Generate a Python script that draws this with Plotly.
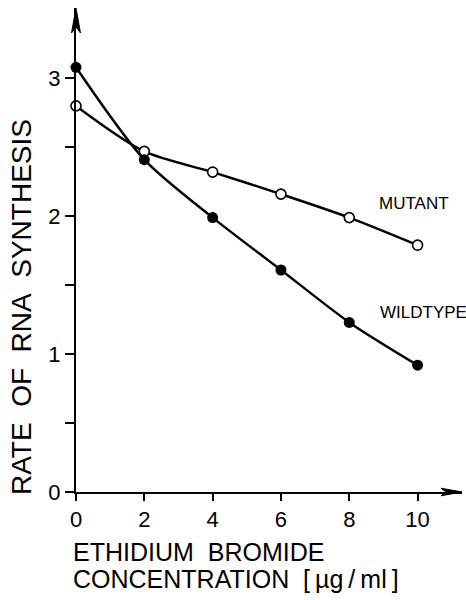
import plotly.graph_objects as go

# Ethidium bromide concentration (ug/ml)
conc = [0, 2, 4, 6, 8, 10]
# Rate of RNA synthesis
wildtype = [3.08, 2.41, 1.99, 1.61, 1.23, 0.92]
mutant = [2.80, 2.47, 2.32, 2.16, 1.99, 1.79]

x_ticks = [0, 2, 4, 6, 8, 10]
y_ticks = [0, 0.5, 1, 1.5, 2, 2.5, 3]
y_ticktext = ["0", "", "1", "", "2", "", "3"]

X_MAX = 11.3
Y_MAX = 3.51
FONT = "Liberation Sans"

PLOT_W = 386.5
PLOT_H = 484.4
SP2 = "&nbsp;&nbsp;"
THIN = "\u2009"

fig = go.Figure()

fig.add_trace(go.Scatter(
    x=conc, y=mutant, mode="lines+markers", name="MUTANT",
    line=dict(color="black", width=2.4, shape="spline", smoothing=0.8),
    marker=dict(symbol="circle", size=10, color="white",
                line=dict(color="black", width=1.6)),
    cliponaxis=False,
))
fig.add_trace(go.Scatter(
    x=conc, y=wildtype, mode="lines+markers", name="WILDTYPE",
    line=dict(color="black", width=2.4, shape="spline", smoothing=0.8),
    marker=dict(symbol="circle", size=11, color="black"),
    cliponaxis=False,
))

# arrowheads at the ends of both axes (paper coordinates, sized in pixels)
hw, ln, nt = 4.5 / PLOT_W, 25 / PLOT_H, 19 / PLOT_H
fig.add_shape(type="path", xref="paper", yref="paper",
              path=f"M 0 1 L {-hw} {1-ln} L 0 {1-nt} L {hw} {1-ln} Z",
              fillcolor="black", line=dict(color="black", width=1))
hh, lx, nx = 3.8 / PLOT_H, 21 / PLOT_W, 16 / PLOT_W
fig.add_shape(type="path", xref="paper", yref="paper",
              path=f"M 1 0 L {1-lx} {-hh} L {1-nx} 0 L {1-lx} {hh} Z",
              fillcolor="black", line=dict(color="black", width=1))

# series labels
fig.add_annotation(x=8.8, y=2.09, text="MUTANT",
                   showarrow=False, xanchor="left", yanchor="middle",
                   font=dict(family=FONT, size=17, color="black"))
fig.add_annotation(x=8.83, y=1.30, text="WILDTYPE",
                   showarrow=False, xanchor="left", yanchor="middle",
                   font=dict(family=FONT, size=17, color="black"))

fig.update_layout(
    width=466, height=600,
    margin=dict(l=76, r=3.5, t=7.6, b=108),
    paper_bgcolor="white", plot_bgcolor="white",
    showlegend=False,
    font=dict(family=FONT, color="black"),
    xaxis=dict(range=[0, X_MAX], showgrid=False, zeroline=False,
               showline=True, linecolor="black", linewidth=2,
               tickvals=x_ticks, ticks="outside", ticklen=7, tickwidth=2,
               tickcolor="black", tickfont=dict(size=22, family=FONT)),
    yaxis=dict(range=[0, Y_MAX], showgrid=False, zeroline=False,
               showline=True, linecolor="black", linewidth=2,
               tickvals=y_ticks, ticktext=y_ticktext, ticks="outside",
               ticklen=9, tickwidth=2, tickcolor="black",
               tickfont=dict(size=22, family=FONT)),
)

# axis titles as free text
fig.add_annotation(x=0, y=0, xref="paper", yref="paper",
                   text=f"ETHIDIUM{SP2}BROMIDE",
                   showarrow=False, xanchor="left", yanchor="middle",
                   xshift=-5, yshift=-60,
                   font=dict(family=FONT, size=25, color="black"))
fig.add_annotation(x=0, y=0, xref="paper", yref="paper",
                   text=f"CONCENTRATION{SP2}[{THIN}µg{THIN}/{THIN}ml{THIN}]",
                   showarrow=False, xanchor="left", yanchor="middle",
                   xshift=-5, yshift=-87,
                   font=dict(family=FONT, size=25, color="black"))
fig.add_annotation(x=0, y=0.5, xref="paper", yref="paper",
                   text=f"RATE{SP2}OF{SP2}RNA{SP2}SYNTHESIS", textangle=-90,
                   showarrow=False, xanchor="center", yanchor="middle",
                   xshift=-55, yshift=-57,
                   font=dict(family=FONT, size=28, color="black"))

fig.write_html("out.html")
